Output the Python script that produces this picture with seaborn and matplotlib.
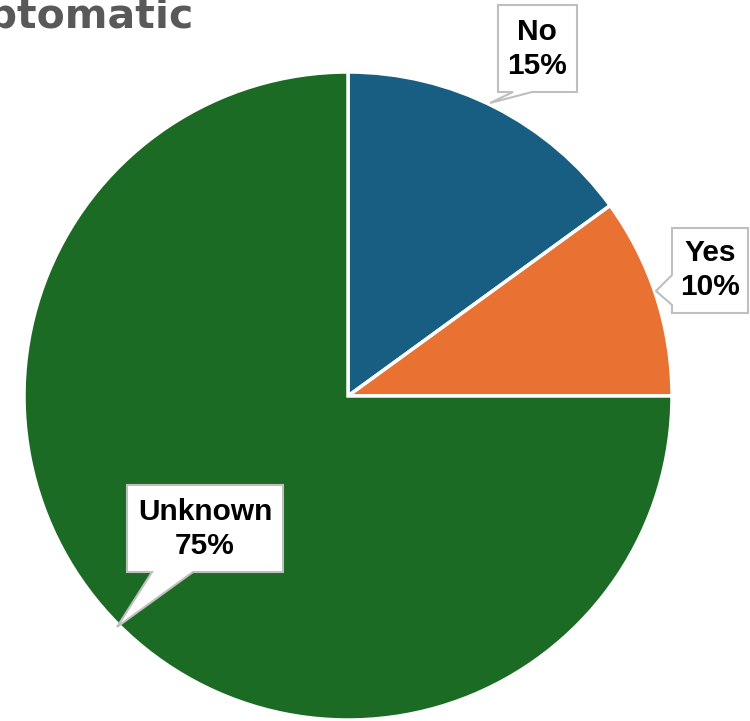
import matplotlib
matplotlib.use("Agg")
import matplotlib.pyplot as plt
from matplotlib.patches import Polygon
import seaborn as sns

categories = ["No", "Yes", "Unknown"]
values = [15, 10, 75]
colors = ["#175E82", "#E97132", "#1B6B24"]
title = "Asymptomatic"

sns.set_theme(style="white")
plt.rcParams["font.family"] = ["Liberation Sans", "DejaVu Sans"]

W, H = 750, 721
fig = plt.figure(figsize=(W / 100, H / 100), dpi=100)
cx, cy, r = 348, 396, 324
ax = fig.add_axes([(cx - r) / W, (H - cy - r) / H, 2 * r / W, 2 * r / H])
ax.pie(values, colors=colors, startangle=90, counterclock=False, radius=1,
       wedgeprops=dict(edgecolor="white", linewidth=2.5))
ax.set_xlim(-1, 1)
ax.set_ylim(-1, 1)
ax.set_aspect("equal")
ax.axis("off")

def d(px, py):
    return ((px - cx) / r, (cy - py) / r)

# callout outlines (pixel layout) and text centres
callouts = [
    [(498, 5), (577, 5), (577, 92), (532, 92), (490, 103), (513, 92), (498, 92)],
    [(672, 228), (748, 228), (748, 313), (672, 313), (672, 305), (656, 291), (672, 275)],
    [(127, 485), (283, 485), (283, 572), (193, 572), (117, 627), (152, 572), (127, 572)],
]
text_pos = [(537, 49), (710, 270), (205, 529)]

for cat, v, shape, tp in zip(categories, values, callouts, text_pos):
    poly = Polygon([d(*p) for p in shape], closed=True, fc="white", ec="#bfbfbf",
                   lw=1.5, clip_on=False, zorder=5, joinstyle="miter")
    ax.add_patch(poly)
    ax.text(*d(*tp), f"{cat}\n{v}%", ha="center", va="center", fontsize=21.5,
            fontweight="bold", color="black", linespacing=1.3, zorder=6,
            clip_on=False)

fig.text(194 / W, 1 - 28 / H, title, ha="right", va="baseline",
         fontsize=29.5, fontweight="bold", color="#595959", family="DejaVu Sans")

fig.savefig("out.png", dpi=100)
